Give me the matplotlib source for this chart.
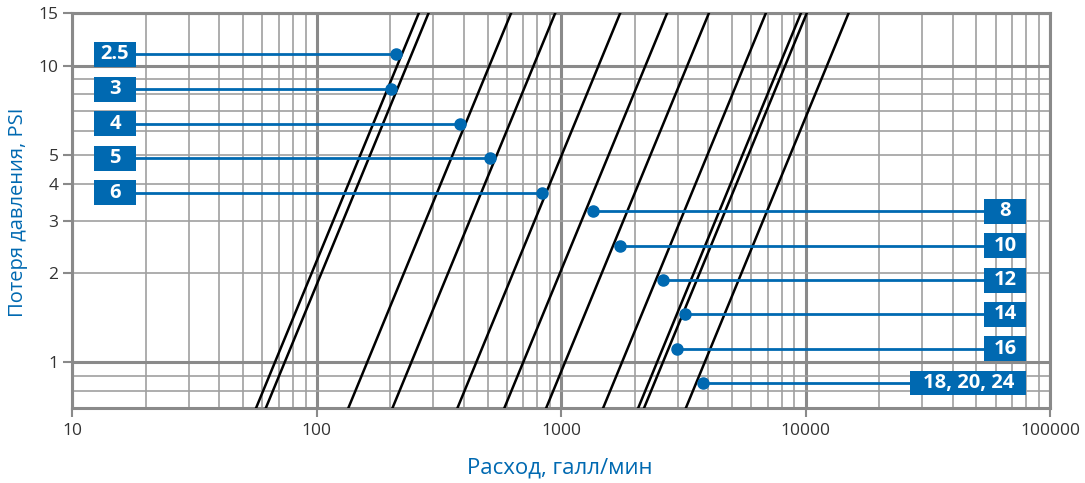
import numpy as np
import matplotlib.pyplot as plt
from matplotlib.patches import Rectangle

plt.rcParams['font.family'] = ['Open Sans', 'DejaVu Sans']

# pipe sizes and the flow (gal/min) each line gives at 1 PSI
sizes = ['2.5', '3', '4', '5', '6', '8', '10', '12', '14', '16', '18, 20, 24']
flow_at_1psi = [67.5, 74, 161, 244, 450, 700, 1038, 1775, 2470, 2610, 3870]

# where each label's dot sits (flow, psi)
dot_flow = [211, 201, 387, 512, 833, 1354, 1742, 2618, 3214, 2972, 3819]
dot_psi = [10.9, 8.33, 6.36, 4.86, 3.72, 3.22, 2.47, 1.89, 1.45, 1.11, 0.85]
label_side = ['L', 'L', 'L', 'L', 'L', 'R', 'R', 'R', 'R', 'R', 'R']

y_ticks = [1, 2, 3, 4, 5, 10, 15]
y_minor = [0.8, 0.9, 6, 7, 8, 9]
x_ticks = [10, 100, 1000, 10000, 100000]

BLUE = '#0069b1'
GRID = '#a0a0a0'
GRID_MAJ = '#8a8a8a'

fig = plt.figure(figsize=(10.85, 4.83), dpi=100)
ax = fig.add_axes([72.3 / 1085, 1 - 408 / 483, (1050 - 72.3) / 1085, (408 - 13.3) / 483])
ax.set_xscale('log')
ax.set_yscale('log')
ax.set_xlim(10, 100000)
ax.set_ylim(0.7, 15)

# grid
for d in [10, 100, 1000, 10000]:
    for m in range(2, 10):
        ax.axvline(d * m, color=GRID, lw=1.2, zorder=1)
for d in x_ticks:
    ax.axvline(d, color=GRID_MAJ, lw=2.2, zorder=1)
for y in y_minor + [2, 3, 4, 5]:
    ax.axhline(y, color=GRID, lw=1.2, zorder=1)
for y in [1, 10, 15]:
    ax.axhline(y, color=GRID_MAJ, lw=2.2, zorder=1)

for s in ax.spines.values():
    s.set_color(GRID_MAJ)
    s.set_linewidth(2.2)

ax.set_xticks(x_ticks)
ax.set_xticklabels(['10', '100', '1000', '10000', '100000'])
ax.set_yticks(y_ticks)
ax.set_yticklabels([str(v) for v in y_ticks])
ax.minorticks_off()
ax.tick_params(axis='both', colors=GRID_MAJ, labelcolor='#333333', labelsize=12.5,
               length=6.5, width=1.5)
ax.tick_params(axis='x', pad=4)

# pressure drop lines, P = (Q / Q1)^2
q = np.logspace(1, 5, 200)
for q1 in flow_at_1psi:
    ax.plot(q, (q / q1) ** 2, color='black', lw=1.8, zorder=3, solid_capstyle='butt')

# labels
half = 10 ** 0.042
for name, fx, py, side in zip(sizes, dot_flow, dot_psi, label_side):
    if side == 'L':
        x0, x1 = 12.27, 18.2
        ax.plot([x1, fx], [py, py], color=BLUE, lw=2, zorder=4)
    else:
        x1 = 79800
        x0 = 26830 if ',' in name else 53700
        ax.plot([fx, x0], [py, py], color=BLUE, lw=2, zorder=4)
    ax.plot(fx, py, 'o', color=BLUE, ms=8, zorder=5)
    ax.add_patch(Rectangle((x0, py / half), x1 - x0, py * half - py / half,
                           facecolor=BLUE, edgecolor='none', zorder=5))
    xc = 10 ** ((np.log10(x0) + np.log10(x1)) / 2)
    ax.text(xc, py, name, color='white', fontsize=14.5, fontweight='bold',
            ha='center', va='center', zorder=6)

fig.text(560 / 1085, 1 - 468 / 483, 'Расход, галл/мин', color=BLUE, fontsize=16,
         ha='center', va='center')
fig.text(18 / 1085, 1 - 212 / 483, 'Потеря давления, PSI', color=BLUE, fontsize=14.5,
         ha='center', va='center', rotation=90)

fig.savefig('out.png', dpi=100)
